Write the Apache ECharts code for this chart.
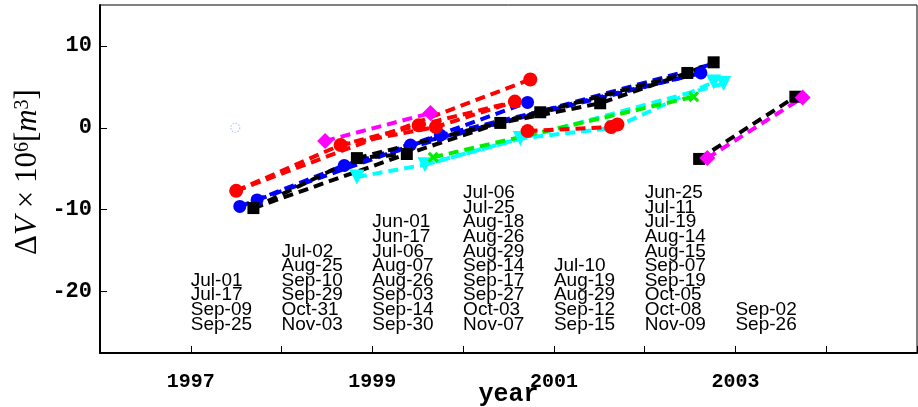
<!DOCTYPE html>
<html>
<head>
<meta charset="utf-8">
<script src="https://cdn.jsdelivr.net/npm/echarts@6/dist/echarts.min.js"></script>
<style>
  html, body { margin: 0; padding: 0; background: #fff; }
  #chart { width: 918px; height: 407px; }
</style>
</head>
<body>
<div id="chart"></div>
<script>
// Volume change per survey (decimal year, ΔV in 10^6 m^3)
const redPts     = [[1997.50,-7.7],[1998.65,-2.1],[1999.51,0.3],[1999.70,0.1],[2000.57,3.2],[2000.74,5.9],[2000.71,-0.4],[2001.63,0.1],[2001.70,0.4]];
const bluePts    = [[1997.54,-9.6],[1997.73,-8.8],[1998.69,-4.6],[1999.42,-2.1],[1999.75,-0.9],[2000.71,3.1],[2002.62,6.7],[2002.75,7.8]];
const blackPts   = [[1997.69,-9.8],[1998.83,-3.7],[1999.38,-3.2],[2000.41,0.6],[2000.85,1.9],[2001.51,3.0],[2002.47,6.7],[2002.76,8.0],[2002.60,-3.8],[2003.66,3.8]];
const cyanPts    = [[1998.83,-6.0],[1999.58,-4.5],[2000.63,-1.3],[2001.66,0.0],[2002.76,5.6],[2002.87,5.4]];
const greenPts   = [[1999.67,-3.6],[2002.54,3.8]];
const magentaPts = [[1998.48,-1.6],[1999.64,1.8],[2002.69,-3.7],[2003.74,3.7]];
const faintPts   = [[1997.49,0.0]];

// Dashed connections, as indices into the point lists above
const redPaths     = [[0,1,2,4],[0,5],[1,3,4],[6,7,8]];
const bluePaths    = [[0,2,3,5],[1,4,6],[2,7],[3,6]];
const blackPaths   = [[0,1,2,3,5,6,7],[0,2],[1,4,6],[8,9]];
const cyanPaths    = [[0,1,5],[1,2,3,4]];
const greenPaths   = [[0,1]];
const magentaPaths = [[0,1],[2,3]];

// Survey dates listed under each year
const dateYears = [1997, 1998, 1999, 2000, 2001, 2002, 2003];
const dates1997 = ['Jul-01','Jul-17','Sep-09','Sep-25'];
const dates1998 = ['Jul-02','Aug-25','Sep-10','Sep-29','Oct-31','Nov-03'];
const dates1999 = ['Jun-01','Jun-17','Jul-06','Aug-07','Aug-26','Sep-03','Sep-14','Sep-30'];
const dates2000 = ['Jul-06','Jul-25','Aug-18','Aug-26','Aug-29','Sep-14','Sep-17','Sep-27','Oct-03','Nov-07'];
const dates2001 = ['Jul-10','Aug-19','Aug-29','Sep-12','Sep-15'];
const dates2002 = ['Jun-25','Jul-11','Jul-19','Aug-14','Aug-15','Sep-07','Sep-19','Oct-05','Oct-08','Nov-09'];
const dates2003 = ['Sep-02','Sep-26'];
const dateLists = [dates1997, dates1998, dates1999, dates2000, dates2001, dates2002, dates2003];
const dateBaseY = -24.9;

// Axis ticks and labels
const xTickLabels = [1997, 1999, 2001, 2003];
const yTickValues = [-20, -10, 0, 10];

const chart = echarts.init(document.getElementById('chart'), null, { renderer: 'canvas' });

const groups = [
  { pts: cyanPts,    paths: cyanPaths,    color: '#00ffff', symbol: 'triangle', size: 15, rotate: 180 },
  { pts: greenPts,   paths: greenPaths,   color: '#00ee00', symbol: 'path://M0,2L2,0L5,3L8,0L10,2L7,5L10,8L8,10L5,7L2,10L0,8L3,5Z', size: 11, rotate: 0 },
  { pts: magentaPts, paths: magentaPaths, color: '#ff00ff', symbol: 'diamond', size: 16, rotate: 0 },
  { pts: redPts,     paths: redPaths,     color: '#ff0000', symbol: 'circle',  size: 14, rotate: 0 },
  { pts: bluePts,    paths: bluePaths,    color: '#0000ff', symbol: 'circle',  size: 13, rotate: 0 },
  { pts: blackPts,   paths: blackPaths,   color: '#000000', symbol: 'rect',    size: 12, rotate: 0 }
];

const series = [];
groups.forEach(g => {
  g.paths.forEach(p => {
    series.push({
      type: 'line',
      data: p.map(i => g.pts[i]),
      showSymbol: false,
      symbol: 'none',
      silent: true,
      animation: false,
      lineStyle: { color: g.color, width: 4, type: [10, 6], cap: 'butt' },
      z: 2
    });
  });
});
// markers, drawn above all dashed lines
const markerOrder = [0, 1, 4, 5, 2, 3];
markerOrder.forEach(k => {
  const g = groups[k];
  series.push({
    type: 'scatter',
    data: g.pts.filter((pt, i) => !(g.color === '#0000ff' && i === 7)),
    symbol: g.symbol,
    symbolSize: g.size,
    symbolRotate: g.rotate,
    itemStyle: { color: g.color, opacity: 1 },
    animation: false,
    z: 3
  });
});
// faint hollow marker
series.push({
  type: 'scatter',
  data: faintPts,
  symbol: 'circle',
  symbolSize: 9,
  itemStyle: { color: 'rgba(255,255,255,0)', borderColor: '#9fb8ff', borderWidth: 1.2, borderType: [1.5, 1.5] },
  animation: false,
  z: 3
});
// date lists
series.push({
  type: 'scatter',
  data: dateYears.map((y, i) => [y, dateBaseY, dateLists[i].join('\n')]),
  symbolSize: 0,
  silent: true,
  animation: false,
  itemStyle: { color: '#000' },
  label: {
    show: true,
    position: [0, 0],
    align: 'left',
    verticalAlign: 'bottom',
    formatter: p => p.data[2],
    fontFamily: 'Liberation Sans',
    fontSize: 19,
    lineHeight: 14.6,
    color: '#000',
    opacity: 1
  },
  z: 1
});

const monoBold = { fontFamily: 'Liberation Mono', fontWeight: 'bold', color: '#000' };

chart.setOption({
  animation: false,
  backgroundColor: '#fff',
  grid: { left: 100, right: 1, top: 5, bottom: 54, outerBoundsMode: 'none', containLabel: false, show: true, borderColor: '#000', borderWidth: 1, backgroundColor: '#fff' },
  xAxis: {
    type: 'value',
    min: 1996,
    max: 2005,
    interval: 1,
    name: 'year',
    nameLocation: 'middle',
    nameGap: 29,
    nameMoveOverlap: false,
    nameTextStyle: Object.assign({ fontSize: 25 }, monoBold),
    axisLine: { show: true, onZero: false, lineStyle: { color: '#000', width: 2 } },
    axisTick: { show: true, inside: true, length: 7, lineStyle: { color: '#000', width: 1 } },
    axisLabel: Object.assign({ customValues: xTickLabels, fontSize: 20, margin: 19, formatter: v => String(v) }, monoBold),
    splitLine: { show: false }
  },
  yAxis: {
    type: 'value',
    min: -27.5,
    max: 15,
    name: '{d|Δ}{i|V}{d| × 10}{s|6}{d|[}{i|m}{s|3}{d|]}',
    nameLocation: 'middle',
    nameRotate: 90,
    nameGap: 57,
    nameMoveOverlap: false,
    nameTextStyle: {
      padding: [0, 0, 0, 14],
      rich: {
        d: { fontFamily: 'Liberation Serif', fontSize: 31, lineHeight: 30, verticalAlign: 'bottom', color: '#000' },
        i: { fontFamily: 'Liberation Serif', fontStyle: 'italic', fontSize: 31, lineHeight: 30, verticalAlign: 'bottom', color: '#000' },
        s: { fontFamily: 'Liberation Serif', fontSize: 20, lineHeight: 20, verticalAlign: 'top', color: '#000' }
      }
    },
    axisLine: { show: true, onZero: false, lineStyle: { color: '#000', width: 2 } },
    axisTick: { show: true, inside: true, length: 7, customValues: yTickValues, lineStyle: { color: '#000', width: 1 } },
    axisLabel: Object.assign({ customValues: yTickValues, fontSize: 22, margin: 8 }, monoBold),
    splitLine: { show: false }
  },
  series: series
});
</script>
</body>
</html>
